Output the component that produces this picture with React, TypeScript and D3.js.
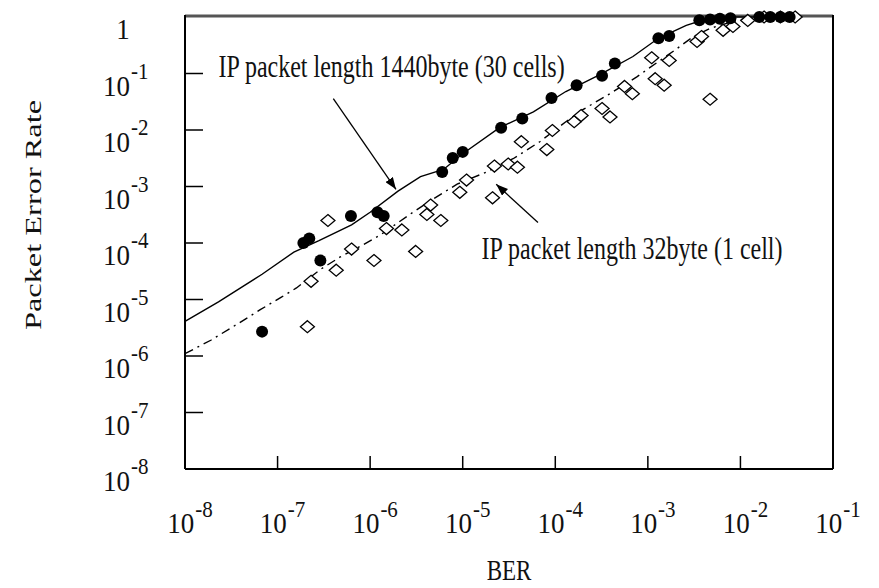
import React, { useRef, useEffect } from "react";
import { select, scaleLog, line } from "d3";

const W = 879;
const H = 588;

// IP packet length 1440byte (30 cells) - measured points (filled circles)
const ber1440 = [6.8e-8, 1.9e-7, 2.2e-7, 2.9e-7, 6.2e-7, 1.2e-6, 1.4e-6, 6.0e-6, 7.8e-6, 1.0e-5, 2.6e-5, 4.4e-5, 9.1e-5, 1.7e-4, 3.2e-4, 4.4e-4, 1.3e-3, 1.7e-3, 3.6e-3, 4.7e-3, 6.0e-3, 7.8e-3, 1.6e-2, 2.1e-2, 2.7e-2, 3.4e-2];
const per1440 = [2.7e-6, 1.0e-4, 1.2e-4, 4.9e-5, 3.0e-4, 3.5e-4, 3.0e-4, 1.8e-3, 3.2e-3, 4.1e-3, 1.1e-2, 1.6e-2, 3.7e-2, 6.2e-2, 9.1e-2, 0.15, 0.42, 0.46, 0.88, 0.9, 0.93, 0.95, 1, 1, 1, 1];

// IP packet length 32byte (1 cell) - measured points (open diamonds)
const ber32 = [2.1e-7, 2.3e-7, 3.5e-7, 4.3e-7, 6.3e-7, 1.1e-6, 1.5e-6, 2.2e-6, 3.1e-6, 4.1e-6, 4.5e-6, 5.8e-6, 9.3e-6, 1.1e-5, 2.1e-5, 2.2e-5, 3.1e-5, 3.9e-5, 4.3e-5, 8.1e-5, 9.3e-5, 1.6e-4, 1.9e-4, 3.2e-4, 3.9e-4, 5.6e-4, 6.8e-4, 1.1e-3, 1.2e-3, 1.5e-3, 1.7e-3, 3.4e-3, 3.8e-3, 4.7e-3, 6.5e-3, 8.3e-3, 1.2e-2, 1.8e-2, 2.7e-2, 3.9e-2];
const per32 = [3.3e-6, 2.1e-5, 2.5e-4, 3.3e-5, 7.8e-5, 4.9e-5, 1.8e-4, 1.7e-4, 7.1e-5, 3.2e-4, 4.7e-4, 2.5e-4, 7.9e-4, 1.3e-3, 6.3e-4, 2.3e-3, 2.5e-3, 2.2e-3, 6.2e-3, 4.5e-3, 9.8e-3, 1.4e-2, 1.8e-2, 2.4e-2, 1.7e-2, 5.9e-2, 4.4e-2, 0.19, 8.1e-2, 6.2e-2, 0.17, 0.37, 0.45, 3.5e-2, 0.58, 0.68, 0.87, 1, 1, 1];

// calculated curve, 1440byte (solid)
const curveBer1440 = [1e-8, 2.3e-8, 6.8e-8, 1.5e-7, 2.8e-7, 6.3e-7, 1.0e-6, 2.0e-6, 3.5e-6, 6.2e-6, 1.0e-5, 2.5e-5, 5.8e-5, 1.3e-4, 3.0e-4, 6.9e-4, 1.3e-3, 2.6e-3, 4.2e-3, 8.3e-3, 4e-2];
const curvePer1440 = [4.1e-6, 9.1e-6, 2.8e-5, 6.9e-5, 1.1e-4, 2.1e-4, 3.5e-4, 8.3e-4, 1.5e-3, 2.0e-3, 3.8e-3, 1.1e-2, 2.1e-2, 4.8e-2, 9.5e-2, 0.2, 0.42, 0.71, 0.91, 1, 1];

// calculated curve, 32byte (dashed)
const curveBer32 = [1e-8, 1.9e-8, 3.9e-8, 6.5e-8, 1.1e-7, 1.6e-7, 2.9e-7, 4.7e-7, 7.8e-7, 1.3e-6, 2.9e-6, 4.8e-6, 8.7e-6, 1.8e-5, 3.5e-5, 6.8e-5, 1.3e-4, 1.9e-4, 3.9e-4, 7.6e-4, 1.0e-3, 1.9e-3, 3.1e-3, 4.7e-3, 8.3e-3, 1.3e-2, 4e-2];
const curvePer32 = [1.1e-6, 1.9e-6, 3.9e-6, 6.6e-6, 1.1e-5, 1.6e-5, 3.4e-5, 5.6e-5, 8.7e-5, 1.4e-4, 3.5e-4, 6.0e-4, 1.1e-3, 1.8e-3, 3.1e-3, 6.2e-3, 1.4e-2, 2.2e-2, 4.4e-2, 8.7e-2, 0.12, 0.25, 0.45, 0.63, 0.83, 1, 1];

const xTicks = [1e-8, 1e-7, 1e-6, 1e-5, 1e-4, 1e-3, 1e-2, 1e-1];
const yTicks = [1, 1e-1, 1e-2, 1e-3, 1e-4, 1e-5, 1e-6, 1e-7, 1e-8];

// annotations: label anchor and arrow (tail -> head), in data units
const notes = [
  { text: "IP packet length 1440byte (30 cells)", ber: 2.3e-8, per: 8.7e-2, from: [4.0e-7, 3.6e-2], to: [1.9e-6, 8.9e-4] },
  { text: "IP packet length 32byte (1 cell)", ber: 1.6e-5, per: 5.2e-5, from: [6.5e-5, 2.3e-4], to: [2.3e-5, 1.1e-3] },
];

const FONT = "'Liberation Serif', 'Times New Roman', serif";

export default function App() {
  const svgRef = useRef(null);

  useEffect(() => {
    const svg = select(svgRef.current);
    svg.selectAll("*").remove();

    const x = scaleLog().domain([1e-8, 1e-1]).range([185, 833]);
    const y = scaleLog().domain([1e-8, 1]).range([469, 17]);
    const x0 = x(1e-8), x1 = x(1e-1), y0 = y(1e-8), y1 = y(1);

    svg.append("defs").append("marker")
      .attr("id", "head")
      .attr("markerUnits", "userSpaceOnUse")
      .attr("markerWidth", 13).attr("markerHeight", 9)
      .attr("refX", 12).attr("refY", 4.5)
      .attr("orient", "auto")
      .append("path").attr("d", "M0,0 L12,4.5 L0,9 Z").attr("fill", "#000");

    //frame
    svg.append("line").attr("x1", x0).attr("x2", x1).attr("y1", y1 - 1).attr("y2", y1 - 1)
      .attr("stroke", "#555").attr("stroke-width", 3);
    svg.append("line").attr("x1", x0).attr("x2", x0).attr("y1", y1 - 2).attr("y2", y0)
      .attr("stroke", "#000").attr("stroke-width", 2);
    svg.append("line").attr("x1", x1).attr("x2", x1).attr("y1", y1 - 2).attr("y2", y0)
      .attr("stroke", "#000").attr("stroke-width", 2);
    svg.append("line").attr("x1", x0).attr("x2", x1).attr("y1", y0).attr("y2", y0)
      .attr("stroke", "#000").attr("stroke-width", 2);

    //ticks
    svg.selectAll(".ytick")
      .data(yTicks.filter(d => d < 1 && d > 1e-8))
      .join("line").attr("class", "ytick")
      .attr("x1", x0).attr("x2", x0 + 18)
      .attr("y1", d => y(d)).attr("y2", d => y(d))
      .attr("stroke", "#000").attr("stroke-width", 1.5);
    svg.selectAll(".xtick")
      .data(xTicks.filter(d => d > 1e-8 && d < 1e-1))
      .join("line").attr("class", "xtick")
      .attr("x1", d => x(d)).attr("x2", d => x(d))
      .attr("y1", y0).attr("y2", y0 - 13)
      .attr("stroke", "#000").attr("stroke-width", 1.5);

    //tick labels
    const ylab = svg.selectAll(".ylab")
      .data(yTicks)
      .join("text").attr("class", "ylab")
      .attr("font-family", FONT)
      .attr("fill", "#111")
      .attr("text-anchor", d => (d === 1 ? "middle" : "start"))
      .attr("transform", d => `translate(${d === 1 ? 123 : 103},${y(d) + 22}) scale(1,1.12)`);
    ylab.append("tspan").attr("font-size", 27).text(d => (d === 1 ? "1" : "10"));
    ylab.filter(d => d !== 1).append("tspan")
      .attr("font-size", 21).attr("dx", 1).attr("dy", -15)
      .text(d => String(Math.round(Math.log10(d))));

    const xlab = svg.selectAll(".xlab")
      .data(xTicks)
      .join("text").attr("class", "xlab")
      .attr("font-family", FONT)
      .attr("fill", "#111")
      .attr("text-anchor", "middle")
      .attr("transform", d => `translate(${x(d) + 5},533) scale(1,1.12)`);
    xlab.append("tspan").attr("font-size", 27).text("10");
    xlab.append("tspan").attr("font-size", 21).attr("dx", 1).attr("dy", -14)
      .text(d => String(Math.round(Math.log10(d))));

    //axis titles
    svg.append("text")
      .attr("font-family", FONT).attr("font-size", 23).attr("fill", "#111")
      .attr("text-anchor", "middle")
      .attr("transform", `translate(${(x0 + x1) / 2},580) scale(1,1.25)`)
      .text("BER");
    svg.append("text")
      .attr("font-family", FONT).attr("font-size", 24).attr("fill", "#111")
      .attr("text-anchor", "middle")
      .attr("transform", `translate(41,${(y0 + y1) / 2 - 28}) scale(1,1.35) rotate(-90)`)
      .text("Packet Error Rate");

    //curves
    const myLine = line()
      .x(d => x(d[0]))
      .y(d => y(d[1]));
    svg.append("path")
      .attr("d", myLine(curveBer1440.map((b, i) => [b, curvePer1440[i]])))
      .attr("fill", "none").attr("stroke", "#000").attr("stroke-width", 1.4);
    svg.append("path")
      .attr("d", myLine(curveBer32.map((b, i) => [b, curvePer32[i]])))
      .attr("fill", "none").attr("stroke", "#000").attr("stroke-width", 1.4)
      .attr("stroke-dasharray", "9,5,2,5");

    //diamonds
    svg.selectAll(".dia")
      .data(ber32.map((b, i) => [b, per32[i]]))
      .join("path").attr("class", "dia")
      .attr("d", d => `M${x(d[0])},${y(d[1]) - 6} l7,6 l-7,6 l-7,-6 Z`)
      .attr("fill", "#fff").attr("stroke", "#000").attr("stroke-width", 1.3);

    //circles
    svg.selectAll(".dot")
      .data(ber1440.map((b, i) => [b, per1440[i]]))
      .join("circle").attr("class", "dot")
      .attr("cx", d => x(d[0]))
      .attr("cy", d => y(d[1]))
      .attr("r", 6)
      .attr("fill", "#000");

    //annotations
    notes.forEach(n => {
      svg.append("text")
        .attr("font-family", FONT).attr("font-size", 24).attr("fill", "#111")
        .attr("transform", `translate(${x(n.ber)},${y(n.per)}) scale(1,1.35)`)
        .text(n.text);
      svg.append("line")
        .attr("x1", x(n.from[0])).attr("y1", y(n.from[1]))
        .attr("x2", x(n.to[0])).attr("y2", y(n.to[1]))
        .attr("stroke", "#000").attr("stroke-width", 1.3)
        .attr("marker-end", "url(#head)");
    });
  }, []);

  return (
    <svg
      ref={svgRef}
      width={W}
      height={H}
      style={{ position: "absolute", left: 0, top: 0, background: "#fff" }}
    />
  );
}
